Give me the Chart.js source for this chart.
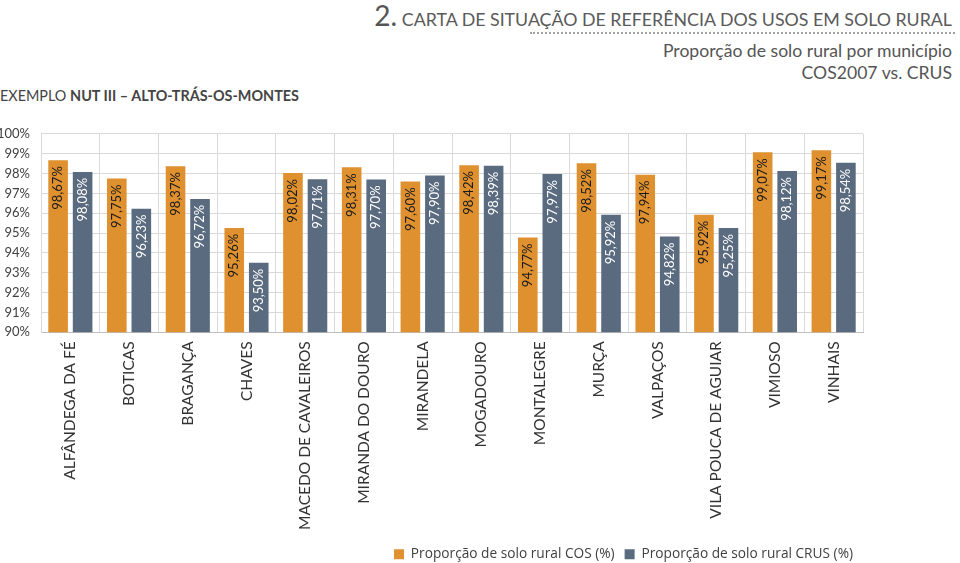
<!DOCTYPE html>
<html>
<head>
<meta charset="utf-8">
<script src="https://cdn.jsdelivr.net/npm/chart.js@4"></script>
<style>
  body { margin: 0; background: #fff; font-family: "Lato", sans-serif; color: #595959; }
  #page { position: relative; width: 960px; height: 563px; overflow: hidden; }
  .abs { position: absolute; white-space: nowrap; }
  #title { right: 8px; top: -2px; font-size: 17.8px; color: #5a5a5a; }
  #title .num { font-size: 28px; color: #555; }
  #rule { left: 530px; top: 32px; width: 425px; border-top: 2px dotted #a0a0a0; }
  #sub1 { right: 8px; top: 40px; font-size: 17.6px; color: #555; }
  #sub2 { right: 8px; top: 62px; font-size: 17.6px; color: #555; }
  #nut { left: 0px; top: 87px; font-size: 14.4px; color: #444; }
  #nut b { font-weight: 700; }
  #wrap { position: absolute; left: 0; top: 115px; width: 960px; height: 448px; }
</style>
</head>
<body>
<div id="page">
  <div id="title" class="abs"><span class="num">2.</span> CARTA DE SITUAÇÃO DE REFERÊNCIA DOS USOS EM SOLO RURAL</div>
  <div id="rule" class="abs"></div>
  <div id="sub1" class="abs">Proporção de solo rural por município</div>
  <div id="sub2" class="abs">COS2007 vs. CRUS</div>
  <div id="nut" class="abs">EXEMPLO <b>NUT III – ALTO-TRÁS-OS-MONTES</b></div>
  <div id="wrap"><canvas id="chart"></canvas></div>
</div>
<script>
const ORANGE = "#df912f";
const SLATE = "#5a6b7f";

const municipios = [
  "ALFÂNDEGA DA FÉ", "BOTICAS", "BRAGANÇA", "CHAVES", "MACEDO DE CAVALEIROS",
  "MIRANDA DO DOURO", "MIRANDELA", "MOGADOURO", "MONTALEGRE", "MURÇA",
  "VALPAÇOS", "VILA POUCA DE AGUIAR", "VIMIOSO", "VINHAIS"
];
const cosValues = [98.67, 97.75, 98.37, 95.26, 98.02, 98.31, 97.60, 98.42, 94.77, 98.52, 97.94, 95.92, 99.07, 99.17];
const crusValues = [98.08, 96.23, 96.72, 93.50, 97.71, 97.70, 97.90, 98.39, 97.97, 95.92, 94.82, 95.25, 98.12, 98.54];
const seriesNames = ["Proporção de solo rural COS (%)", "Proporção de solo rural CRUS (%)"];
const yMin = 90, yMax = 100;

function pct(v) {
  return v.toFixed(2).replace(".", ",") + "%";
}

// Rotated value labels just inside the top of each bar
const barLabels = {
  id: "barLabels",
  afterDatasetsDraw(chart) {
    const ctx = chart.ctx;
    chart.data.datasets.forEach((ds, i) => {
      const meta = chart.getDatasetMeta(i);
      meta.data.forEach((bar, j) => {
        ctx.save();
        ctx.translate(bar.x, bar.y + 6);
        ctx.rotate(-Math.PI / 2);
        ctx.font = "13px Lato";
        ctx.fillStyle = i === 0 ? "#1a1a1a" : "#ffffff";
        ctx.textAlign = "right";
        ctx.textBaseline = "middle";
        ctx.fillText(pct(ds.data[j]), 0, 0);
        ctx.restore();
      });
    });
  },
};

new Chart(document.getElementById("chart"), {
  type: "bar",
  data: {
    labels: municipios,
    datasets: [
      { label: seriesNames[0], data: cosValues, backgroundColor: ORANGE },
      { label: seriesNames[1], data: crusValues, backgroundColor: SLATE },
    ],
  },
  options: {
    responsive: true,
    maintainAspectRatio: false,
    animation: false,
    categoryPercentage: 0.835,
    barPercentage: 0.8,
    layout: { padding: { top: 9, right: 97, left: 0, bottom: -8 } },
    scales: {
      x: {
        grid: { color: "#d9d9d9", drawTicks: false, offset: true },
        border: { color: "#bfbfbf" },
        ticks: {
          minRotation: 90,
          maxRotation: 90,
          autoSkip: false,
          padding: 9,
          color: "#333",
          font: { family: "Lato", size: 15.5 },
        },
        afterFit(scale) { scale.height = 205; },
      },
      y: {
        min: yMin,
        max: yMax,
        grid: { color: "#d9d9d9", drawTicks: false },
        border: { color: "#d9d9d9" },
        ticks: {
          stepSize: 1,
          padding: 11,
          color: "#404040",
          font: { family: "Lato", size: 13 },
          callback: (v) => v + "%",
        },
        afterFit(scale) { scale.width = 41; },
      },
    },
    plugins: {
      legend: {
        position: "bottom",
        align: "end",
        labels: {
          boxWidth: 10,
          boxHeight: 10,
          padding: 10,
          color: "#404040",
          font: { family: "Open Sans", size: 13.7 },
        },
      },
      tooltip: { enabled: false },
    },
  },
  plugins: [barLabels],
});
</script>
</body>
</html>
